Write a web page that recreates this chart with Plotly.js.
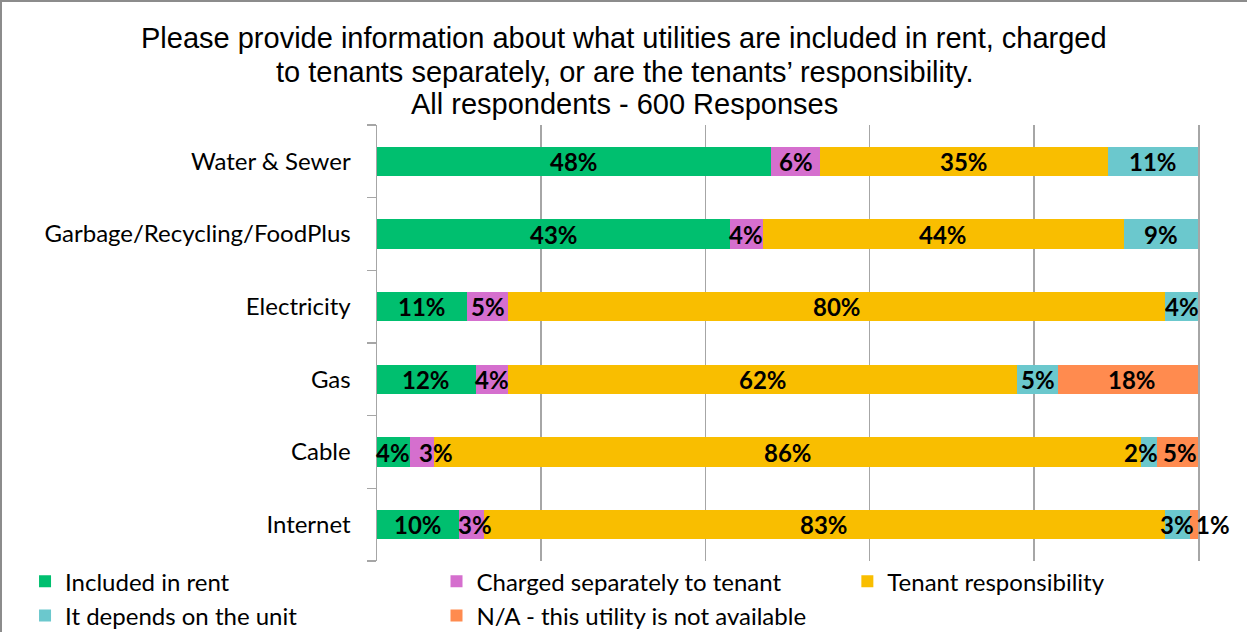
<!DOCTYPE html>
<html>
<head>
<meta charset="utf-8">
<script src="https://cdn.plot.ly/plotly-3.0.1.min.js"></script>
<style>
  html, body { margin: 0; padding: 0; background: #fff; }
  #chart { width: 1247px; height: 632px; box-sizing: border-box; border-top: 2px solid #8c8c8c; border-left: 2px solid #8c8c8c; }
</style>
</head>
<body>
<div id="chart"></div>
<script>
// categories listed bottom to top (Plotly draws first category at bottom)
const utilities = ["Internet", "Cable", "Gas", "Electricity", "Garbage/Recycling/FoodPlus", "Water & Sewer"];

const includedInRent = [10, 4, 12, 11, 43, 48];
const chargedSeparately = [3, 3, 4, 5, 4, 6];
const tenantResponsibility = [83, 86, 62, 80, 44, 35];
const dependsOnUnit = [3, 2, 5, 4, 9, 11];
const notAvailable = [1, 5, 18, 0, 0.3, 0.4];

const seriesNames = [
    "Included in rent",
    "Charged separately to tenant",
    "Tenant responsibility",
    "It depends on the unit",
    "N/A - this utility is not available"
];
const seriesValues = [includedInRent, chargedSeparately, tenantResponsibility, dependsOnUnit, notAvailable];
const seriesColors = ["#00bf6f", "#d56fce", "#f9be00", "#6bc8cd", "#ff8b4f"];
// which legend column each series sits in (the original lays them out in 3 columns)
const legendColumn = ["legend", "legend2", "legend3", "legend", "legend2"];

const titleLines = [
    "Please provide information about what utilities are included in rent, charged",
    "to tenants separately, or are the tenants\u2019 responsibility.",
    "All respondents - 600 Responses"
];

const uiFont = "Lato, 'Open Sans', sans-serif";
const labelFont = { family: uiFont, size: 24, color: "#000" };

const traces = seriesValues.map((vals, i) => ({
    type: "bar",
    orientation: "h",
    name: seriesNames[i],
    y: utilities,
    x: vals,
    legend: legendColumn[i],
    marker: { color: seriesColors[i], line: { width: 0 } },
    hoverinfo: "x+name"
}));

// data labels as annotations centred on each segment, so they keep full size like the original
const annotations = [];
const cumulative = utilities.map(() => 0);
seriesValues.forEach((vals, i) => {
    vals.forEach((v, j) => {
        const mid = cumulative[j] + v / 2;
        cumulative[j] += v;
        if (v < 1) return; // tiny slivers carry no label
        let shift = 0;
        // small segments: nudge labels aside the way excel did
        if (utilities[j] === "Internet" && i === 4) shift = 19;
        if (utilities[j] === "Cable" && i === 1) shift = 14;
        if (utilities[j] === "Cable" && i === 3) shift = -8;
        if (utilities[j] === "Cable" && i === 4) shift = 3;
        if (utilities[j] === "Internet" && i === 1) shift = 4;
        annotations.push({
            x: mid,
            y: utilities[j],
            xref: "x",
            yref: "y",
            text: "<b>" + Math.round(v) + "%</b>",
            showarrow: false,
            xshift: shift,
            font: labelFont
        });
    });
});

// title: three lines, tighter spacing than plotly's own title allows
const titleY = [1.1995, 1.1216, 1.0482];
titleLines.forEach((line, k) => {
    annotations.push({
        text: line,
        xref: "paper",
        yref: "paper",
        x: 0.3009,
        y: titleY[k],
        xanchor: "center",
        yanchor: "middle",
        showarrow: false,
        font: { family: "Liberation Sans, Arial, sans-serif", size: 29, color: "#000" }
    });
});

function legendAt(x) {
    return {
        orientation: "v",
        traceorder: "normal",
        xref: "container",
        yref: "container",
        x: x,
        xanchor: "left",
        y: 0.1155,
        yanchor: "top",
        bgcolor: "rgba(0,0,0,0)",
        font: { family: uiFont, size: 24, color: "#000" },
        itemwidth: 30
    };
}

const layout = {
    width: 1245,
    height: 630,
    margin: { l: 375, r: 49, t: 123, b: 71, autoexpand: false },
    paper_bgcolor: "#fff",
    plot_bgcolor: "#fff",
    barmode: "stack",
    bargap: 0.6,
    xaxis: {
        range: [0, 100],
        dtick: 20,
        showticklabels: false,
        showgrid: true,
        gridcolor: "#a6a6a6",
        gridwidth: 1.5,
        zeroline: false,
        fixedrange: true
    },
    yaxis: {
        showline: true,
        mirror: true,
        linecolor: "#a6a6a6",
        linewidth: 1.5,
        ticks: "outside",
        tickson: "boundaries",
        ticklen: 9,
        tickcolor: "#a6a6a6",
        tickwidth: 1.5,
        ticklabelstandoff: 20,
        tickfont: { family: uiFont, size: 24, color: "#000" },
        showgrid: false,
        fixedrange: true
    },
    showlegend: true,
    legend: legendAt(0.0185),
    legend2: legendAt(0.349),
    legend3: legendAt(0.679),
    annotations: annotations
};

Plotly.newPlot("chart", traces, layout, { displayModeBar: false, staticPlot: true });
</script>
</body>
</html>
